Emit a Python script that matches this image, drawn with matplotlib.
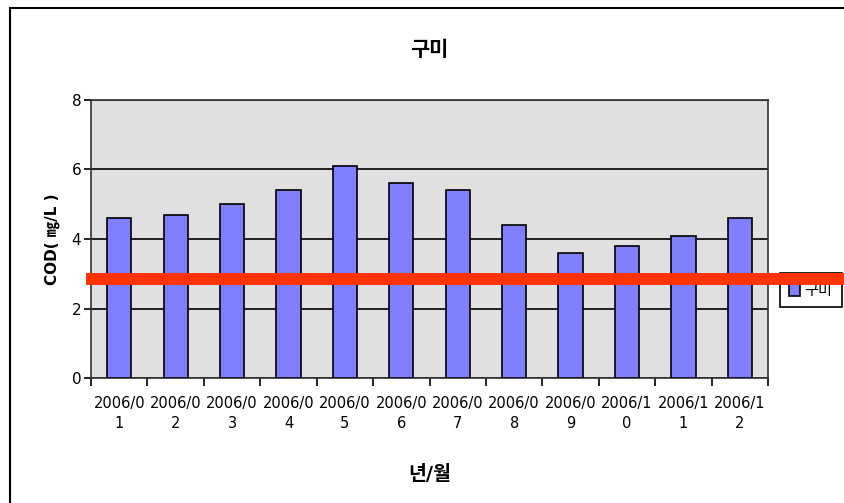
import matplotlib
matplotlib.use('Agg')
import matplotlib.pyplot as plt
import matplotlib.patches as patches
from matplotlib.transforms import blended_transform_factory
import numpy as np

plt.rcParams['font.family'] = ['DejaVu Sans', 'Noto Sans CJK KR']

# data
months = ['2006/0\n1', '2006/0\n2', '2006/0\n3', '2006/0\n4', '2006/0\n5', '2006/0\n6',
          '2006/0\n7', '2006/0\n8', '2006/0\n9', '2006/1\n0', '2006/1\n1', '2006/1\n2']
cod = [4.6, 4.7, 5.0, 5.4, 6.1, 5.6, 5.4, 4.4, 3.6, 3.8, 4.1, 4.6]
series_name = '구미'
ref_level = 2.85

fig = plt.figure(figsize=(8.45, 5.03), dpi=100)
ax = fig.add_axes([0.1077, 0.2485, 0.8012, 0.5527])
ax.set_facecolor('#e0e0e0')

x = np.arange(len(months))
ax.bar(x, cod, width=0.43, color='#8080ff', edgecolor='black', linewidth=1.2,
       label=series_name, zorder=3)

ax.set_xlim(-0.5, len(months) - 0.5)
ax.set_ylim(0, 8)
ax.set_yticks([0, 2, 4, 6, 8])
ax.yaxis.grid(True, color='black', linewidth=1.2, zorder=1)
ax.set_axisbelow(True)

# ticks at category boundaries, labels at centres
ax.set_xticks(np.arange(-0.5, len(months), 1.0))
ax.set_xticklabels([])
ax.set_xticks(x, minor=True)
ax.set_xticklabels(months, minor=True, fontsize=10.5, linespacing=1.45)
ax.tick_params(axis='x', which='minor', length=0, pad=13)
ax.tick_params(axis='x', which='major', length=6, width=1.2, direction='out')
ax.tick_params(axis='y', length=5, width=1.2, labelsize=11, pad=2)
for s in ax.spines.values():
    s.set_linewidth(1.2)
    s.set_color('#333333')

ax.set_title(series_name, fontsize=15, fontweight='bold', pad=32)
ax.set_xlabel('년/월', fontsize=14, fontweight='bold', labelpad=24)
ax.set_ylabel('COD( ㎎/L )', fontsize=11, fontweight='bold', labelpad=8)

leg = ax.legend(loc='center left', bbox_to_anchor=(780 / 845, 1 - 290 / 503), bbox_transform=fig.transFigure,
                fancybox=False, edgecolor='black', framealpha=1, fontsize=11, borderaxespad=0,
                handlelength=0.7, handleheight=0.9, handletextpad=0.3, borderpad=0.6)
leg.get_frame().set_linewidth(1.2)

# red reference line across plot and legend
tr = blended_transform_factory(ax.transAxes, ax.transData)
ax.plot([-0.007, 1.2], [ref_level, ref_level], color='#ff3300', linewidth=8.6,
        transform=tr, clip_on=False, zorder=10, solid_capstyle='butt')

fig.patches.append(patches.Rectangle((10 / 845, -0.02), 1.0, 1.02 - 8 / 503, fill=False,
                                     edgecolor='black', linewidth=1.5, transform=fig.transFigure))

fig.savefig('out.png', dpi=100)
